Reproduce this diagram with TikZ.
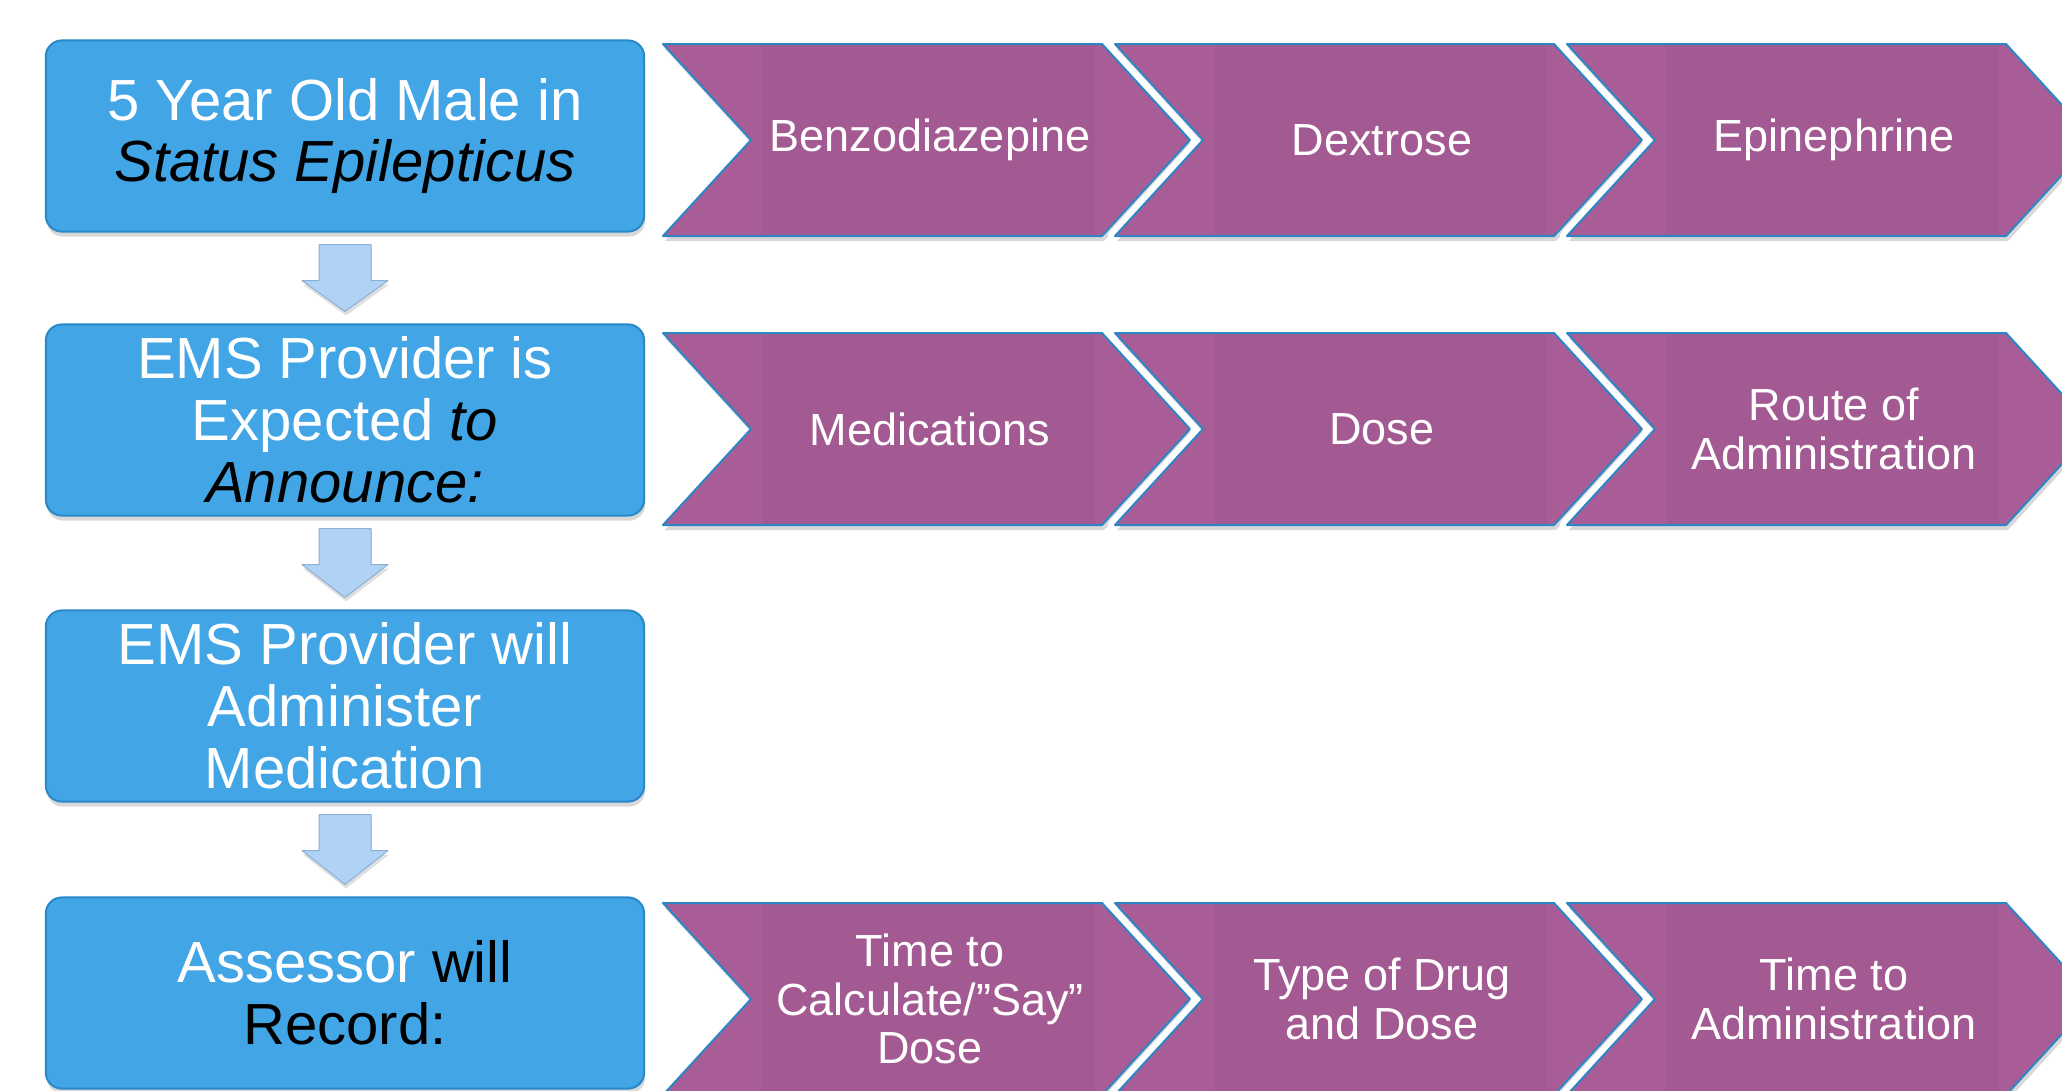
\documentclass[tikz,border=0pt]{standalone}
\usepackage{fontspec}
\setmainfont{Liberation Sans}
\usetikzlibrary{calc,shadows}
\definecolor{boxblue}{RGB}{66,165,230}
\definecolor{boxline}{RGB}{41,137,200}
\definecolor{arrowfill}{RGB}{176,211,245}
\definecolor{arrowline}{RGB}{140,175,215}
\definecolor{chevfill}{RGB}{163,89,145}
\definecolor{chevlight}{RGB}{168,93,150}
\definecolor{chevline}{RGB}{44,134,196}
\begin{document}
\begin{tikzpicture}[
      % 1 个单位 = 参考图的 1 像素，y 轴向下
      x={(0.01cm,0cm)},
      y={(0cm,-0.01cm)},
      line join=round,
      stepbox/.style={draw=boxline, line width=0.02cm, fill=boxblue,
        rounded corners=0.16cm, minimum width=5.98cm, minimum height=1.91cm,
        inner sep=0pt, align=center, text=white,
        font=\fontsize{16.5pt}{17.6pt}\selectfont,
        drop shadow={shadow xshift=0.01cm, shadow yshift=-0.05cm, opacity=.3}},
      downarr/.style={draw=arrowline, line width=0.01cm, fill=arrowfill,
        drop shadow={shadow xshift=0.01cm, shadow yshift=-0.04cm, opacity=.25}},
      chevshape/.style={insert path={(\L,\T) -- (\L+439,\T) -- (\L+527,\T+96)
        -- (\L+439,\T+192) -- (\L,\T+192) -- (\L+88,\T+96) -- cycle}},
      chevgap/.style={draw=white, line width=0.14cm},
      chevbody/.style={fill=chevfill,
        drop shadow={shadow xshift=0.02cm, shadow yshift=-0.05cm, opacity=.3}},
      chevedge/.style={draw=chevline, line width=0.02cm},
      chevtext/.style={text=white, align=center,
        font=\fontsize{12.8pt}{13.9pt}\selectfont},
    ]

    % 画面范围
    \clip (0,0) rectangle (2062,1090);
    \fill[white] (0,0) rectangle (2062,1090);

    % 左侧四个步骤框
    \node[stepbox] (b1) at (345,136) {5 Year Old Male in\\
      {\color{black}\itshape Status Epilepticus}};
    \node[stepbox] (b2) at (345,420) {EMS Provider is\\
      Expected {\color{black}\itshape to}\\{\color{black}\itshape Announce:}};
    \node[stepbox] (b3) at (345,706) {EMS Provider will\\Administer\\Medication};
    \node[stepbox] (b4) at (345,993) {Assessor {\color{black}will}\\
      {\color{black}Record:}};

    % 框之间的向下箭头
    \foreach \a/\b in {b1/b2,b2/b3,b3/b4}
      \path[downarr] ($(\a.south)+(-26,12)$) -- ($(\a.south)+(26,12)$)
        -- ($(\a.south)+(26,48)$) -- ($(\a.south)+(43,48)$)
        -- ($(\b.north)+(0,-12)$) -- ($(\a.south)+(-43,48)$)
        -- ($(\a.south)+(-26,48)$) -- cycle;

    % 右侧的 V 形条
    \foreach \L/\T/\nm/\txt in {
        663/44/c11/{Benzodiazepine},
        1115/44/c12/{Dextrose},
        1567/44/c13/{Epinephrine},
        663/333/c21/{Medications},
        1115/333/c22/{Dose},
        1567/333/c23/{Route of\\Administration},
        663/903/c31/{Time to\\Calculate\slash ”Say”\\Dose},
        1115/903/c32/{Type of Drug\\and Dose},
        1567/903/c33/{Time to\\Administration}}{
      \path[chevshape, chevgap];
      \path[chevshape, chevbody];
      \begin{scope}
        \clip[chevshape];
        \fill[chevlight] (\L,\T) rectangle (\L+100,\T+192);
        \fill[chevlight] (\L+432,\T) rectangle (\L+527,\T+192);
      \end{scope}
      \path[chevshape, chevedge];
      \node[chevtext] (\nm) at (\L+267,\T+96) {\txt};
    }

    \end{tikzpicture}
\end{document}
